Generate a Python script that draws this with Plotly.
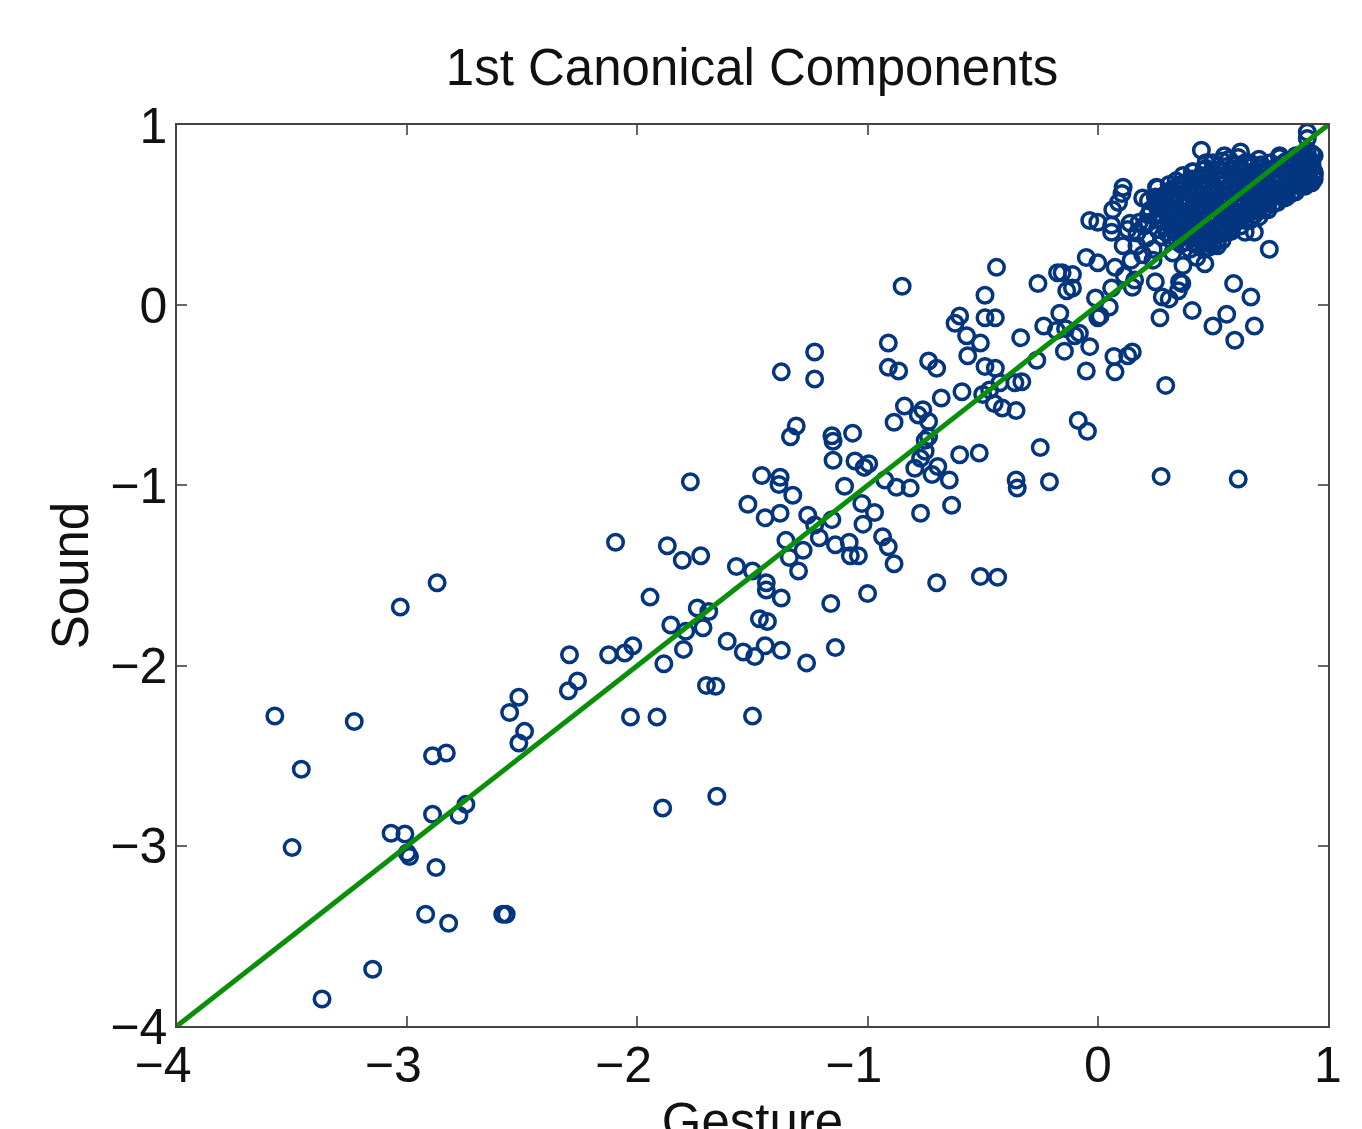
import plotly.graph_objects as go

# Outlying and mid-range points
gesture_sparse = [-3.575,-3.46,-3.23,-3.50,-3.37,-3.15,-2.92,-2.82,-2.875,-3.07,-3.01,-3.0,-2.99,-2.89,-2.775,-2.745,-2.89,-2.83,-3.03,-2.87,
 -2.585,-2.57,-2.555,-2.515,-2.49,-2.515,-2.30,-2.26,-2.295,-2.125,-2.055,-2.02,-2.03,-1.915,-1.89,-1.655,-2.095,-1.945,-1.87,-1.805,
 -1.725,-1.77,-1.855,-1.79,-1.74,-1.69,-1.715,-1.80,-1.885,-1.70,-1.66,-1.61,-1.54,-1.49,-1.50,-1.57,-1.50,-1.44,-1.44,-1.375,
 -1.47,-1.435,-1.445,-1.375,-1.265,-1.14,-1.16,-1.00,-1.52,-1.46,-1.38,-1.385,-1.325,-1.445,-1.38,-1.26,-1.355,-1.34,-1.28,-1.30,
 -1.23,-1.21,-1.155,-1.14,-1.08,-1.075,-1.04,-0.935,-0.91,-0.885,-0.70,-0.51,-0.435,-0.635,-0.77,-0.97,-1.025,-1.02,-1.10,-1.15,
 -1.055,-1.015,-0.995,-1.065,-1.155,-1.15,-1.335,-1.31,-1.375,-1.23,-1.23,-0.925,-0.875,-0.815,-0.795,-0.77,-0.75,-0.75,-0.735,-0.72,
 -0.695,-0.645,-0.60,-0.515,-0.885,-0.84,-0.78,-0.76,-0.735,-0.68,-0.91,-0.91,-0.865,-0.85,-0.735,-0.70,-0.59,-0.62,-0.60,-0.57,
 -0.565,-0.51,-0.49,-0.445,-0.49,-0.445,-0.49,-0.44,-0.50,-0.47,-0.45,-0.415,-0.36,-0.33,-0.355,-0.425,-0.335,-0.265,-0.25,-0.355,
 -0.35,-0.21,-0.26,-0.235,-0.175,-0.155,-0.11,-0.135,-0.11,-0.165,-0.18,-0.14,-0.145,-0.10,-0.08,-0.035,-0.05,-0.085,-0.045,0.0,
 0.01,0.05,-0.01,-0.05,0.0,-0.035,0.0,0.07,0.075,0.13,0.15,0.075,0.06,0.275,0.61,0.295,0.27,0.28,0.31,0.41,
 0.50,0.56,0.595,0.68,0.665,0.59,0.745,0.35,0.365,0.25,0.465,0.45]
sound_sparse = [-2.28,-2.575,-2.31,-3.01,-3.85,-3.685,-3.38,-3.43,-3.12,-2.93,-2.935,-3.04,-3.06,-2.825,-2.83,-2.77,-2.50,-2.485,-1.675,-1.54,
 -3.38,-3.38,-2.26,-2.175,-2.365,-2.43,-2.14,-2.085,-1.94,-1.94,-1.93,-1.89,-2.285,-2.285,-2.79,-2.725,-1.315,-1.62,-1.335,-1.415,
 -1.39,-0.98,-1.775,-1.81,-1.68,-1.70,-1.79,-1.91,-1.99,-2.11,-2.115,-1.865,-1.925,-1.95,-2.28,-1.45,-1.475,-1.54,-1.58,-1.625,
 -1.74,-1.755,-1.89,-1.915,-1.985,-1.90,-1.655,-1.60,-1.105,-0.945,-0.955,-0.995,-1.055,-1.18,-1.155,-1.165,-1.305,-1.40,-1.36,-1.475,
 -1.22,-1.29,-1.19,-1.33,-1.315,-1.39,-1.39,-1.285,-1.34,-1.435,-1.54,-1.505,-1.51,-1.11,-1.155,-1.15,-1.10,-1.215,-1.005,-0.86,
 -0.865,-0.90,-0.88,-0.71,-0.725,-0.755,-0.73,-0.67,-0.37,-0.26,-0.41,-0.97,-1.01,-1.015,-0.905,-0.85,-0.81,-0.75,-0.73,-0.94,
 -0.895,-0.97,-0.83,-0.82,-0.65,-0.56,-0.61,-0.58,-0.645,-0.515,-0.21,-0.345,-0.365,0.105,-0.31,-0.35,-0.48,-0.10,-0.06,-0.17,
 -0.28,-0.21,-0.34,-0.35,-0.07,-0.07,0.055,0.21,-0.495,-0.47,-0.545,-0.57,-0.43,-0.425,-0.585,-0.43,-0.18,-0.305,-0.79,-0.97,
 -1.015,-0.98,0.12,-0.115,0.18,0.18,0.17,0.08,0.095,-0.045,-0.14,-0.13,-0.255,-0.17,-0.155,-0.23,-0.365,-0.64,-0.70,-0.07,
 -0.06,-0.01,0.04,0.265,0.235,0.47,0.46,-0.285,-0.37,-0.28,-0.26,0.21,0.095,-0.95,-0.965,-0.445,-0.07,0.045,0.035,-0.03,
 -0.115,-0.05,-0.195,-0.115,0.045,0.12,0.31,0.08,0.12,0.13,0.23,0.86]

# Edge of the dense cluster in the top right corner
gesture_edge = [0.11,0.105,0.09,0.065,0.06,0.06,0.14,0.11,0.195,0.255,0.34,0.415,0.55,0.62,0.79,0.91,0.91,0.52,0.68,0.64,
 0.565,0.81,0.37,0.145,0.24,0.195,0.15,0.115,0.16,0.355,0.43,0.325,0.20,0.22,0.17,0.18,0.23,0.26,0.27,0.21,0.24,0.13,0.17]
sound_edge = [0.655,0.62,0.57,0.53,0.445,0.405,0.455,0.33,0.595,0.655,0.655,0.74,0.83,0.85,0.83,0.96,0.925,0.33,0.405,0.405,
 0.405,0.595,0.22,0.25,0.25,0.28,0.10,0.165,0.14,0.13,0.265,0.29,0.44,0.50,0.40,0.46,0.53,0.42,0.60,0.37,0.31,0.42,0.33]

# Solid body of the cluster
gesture_body = [0.28,0.29,0.27,0.28,0.29, 0.32,0.33,0.31,0.32,0.33,0.32, 0.36,0.37,0.35,0.36,0.37,0.35,0.36,
 0.40,0.41,0.39,0.40,0.41,0.39,0.40,0.41, 0.44,0.45,0.43,0.44,0.45,0.43,0.44,0.45,
 0.48,0.49,0.47,0.48,0.49,0.47,0.48,0.49,0.47, 0.52,0.53,0.51,0.52,0.53,0.51,0.52,0.53,
 0.56,0.57,0.55,0.56,0.57,0.55,0.56, 0.60,0.61,0.59,0.60,0.61,0.59,0.60, 0.64,0.65,0.63,0.64,0.65,0.63,0.64,
 0.68,0.69,0.67,0.68,0.69,0.67, 0.72,0.73,0.71,0.72,0.73,0.71, 0.76,0.77,0.75,0.76,0.77,
 0.80,0.81,0.79,0.80,0.81, 0.84,0.85,0.83,0.84,0.85, 0.88,0.89,0.87,0.88, 0.92,0.91,0.93,0.92, 0.94,0.94,0.93,0.94,
 0.90,0.86,0.82,0.78,0.74,0.70,0.66,0.62,0.58,0.54,0.50,0.46,0.42,0.38,0.34,0.30,0.93,0.94,0.90]
sound_body = [0.38,0.44,0.50,0.56,0.61, 0.36,0.42,0.47,0.53,0.58,0.64, 0.34,0.40,0.45,0.51,0.56,0.62,0.67,
 0.31,0.37,0.43,0.48,0.54,0.59,0.65,0.70, 0.33,0.39,0.44,0.50,0.56,0.61,0.67,0.72,
 0.32,0.38,0.44,0.49,0.55,0.60,0.66,0.71,0.76, 0.36,0.42,0.47,0.53,0.58,0.64,0.69,0.75,
 0.44,0.50,0.55,0.61,0.66,0.72,0.77, 0.46,0.51,0.57,0.62,0.68,0.73,0.78, 0.47,0.53,0.58,0.64,0.69,0.75,0.79,
 0.50,0.55,0.61,0.66,0.72,0.77, 0.53,0.58,0.64,0.69,0.74,0.78, 0.56,0.61,0.66,0.71,0.76,
 0.60,0.65,0.70,0.75,0.79, 0.62,0.67,0.72,0.77,0.81, 0.66,0.71,0.75,0.80, 0.68,0.72,0.76,0.81, 0.70,0.74,0.78,0.83,
 0.78,0.74,0.68,0.63,0.60,0.56,0.52,0.49,0.41,0.40,0.35,0.35,0.41,0.43,0.49,0.52,0.79,0.72,0.69]

gesture_fill = [0.22,0.23,0.22, 0.26,0.27,0.26,0.25,0.26, 0.30,0.31,0.30,0.29,0.30,0.31, 0.34,0.35,0.34,0.33,0.34,0.35,0.34,
 0.38,0.39,0.38,0.37,0.38,0.39,0.38,0.37, 0.42,0.43,0.42,0.41,0.42,0.43,0.42,0.41,
 0.46,0.47,0.46,0.45,0.46,0.47,0.46,0.45,0.46,0.47, 0.50,0.51,0.50,0.49,0.50,0.51,0.50,0.49,0.50,
 0.54,0.55,0.54,0.53,0.54,0.55,0.54,0.53,0.54, 0.58,0.59,0.58,0.57,0.58,0.59,0.58,0.57,
 0.62,0.63,0.62,0.61,0.62,0.63,0.62,0.61, 0.66,0.67,0.66,0.65,0.66,0.67,0.66,
 0.70,0.71,0.70,0.69,0.70,0.71,0.70, 0.74,0.75,0.74,0.73,0.74,0.75, 0.78,0.79,0.78,0.77,0.78,0.79,
 0.82,0.83,0.82,0.81,0.82, 0.86,0.87,0.86,0.85,0.86, 0.90,0.91,0.90,0.89,0.90,0.91, 0.93,0.94,0.93,0.92,0.93]
sound_fill = [0.46,0.52,0.58, 0.42,0.48,0.54,0.60,0.65, 0.40,0.46,0.51,0.57,0.62,0.67, 0.37,0.43,0.48,0.54,0.60,0.65,0.69,
 0.35,0.40,0.46,0.52,0.57,0.63,0.68,0.72, 0.34,0.40,0.46,0.52,0.57,0.63,0.69,0.74,
 0.31,0.36,0.41,0.47,0.52,0.58,0.64,0.69,0.75,0.79, 0.33,0.39,0.45,0.50,0.56,0.62,0.67,0.73,0.79,
 0.36,0.41,0.47,0.52,0.58,0.64,0.69,0.75,0.80, 0.43,0.48,0.54,0.60,0.65,0.71,0.76,0.81,
 0.44,0.49,0.55,0.60,0.66,0.71,0.76,0.82, 0.47,0.52,0.57,0.63,0.68,0.74,0.79,
 0.49,0.55,0.60,0.66,0.71,0.76,0.81, 0.53,0.59,0.64,0.69,0.74,0.79, 0.57,0.62,0.67,0.72,0.77,0.82,
 0.60,0.65,0.70,0.75,0.80, 0.63,0.68,0.73,0.78,0.83, 0.66,0.70,0.74,0.78,0.83,0.86, 0.68,0.73,0.77,0.80,0.84]

line_x = [-4, 1]
line_y = [-4, 1]
tick_values = [-4, -3, -2, -1, 0, 1]
x_tick_labels = ["\u22124\u00a0\u00a0", "\u22123\u00a0\u00a0", "\u22122\u00a0\u00a0", "\u22121\u00a0\u00a0", "0", "1"]
y_tick_labels = ["\u22124", "\u22123", "\u22122", "\u22121", "0", "1"]

FONT = "Liberation Sans, Arial, sans-serif"
INK = "#111111"
fig = go.Figure()
fig.add_trace(go.Scatter(
    x=gesture_sparse + gesture_edge + gesture_body + gesture_fill,
    y=sound_sparse + sound_edge + sound_body + sound_fill, mode="markers",
    marker=dict(symbol="circle-open", size=15.5, color="#04357f", line=dict(width=3.5, color="#04357f")),
    showlegend=False, cliponaxis=False))
fig.add_trace(go.Scatter(x=line_x, y=line_y, mode="lines",
    line=dict(color="#0a8f0a", width=5), showlegend=False))

axis = dict(range=[-4, 1], tickmode="array", tickvals=tick_values, ticks="inside", ticklen=10,
            tickwidth=1.5, tickcolor="#666666", showline=True, linecolor="#444444", linewidth=1.5,
            mirror="ticks", showgrid=False, zeroline=False, tickfont=dict(family=FONT, size=50, color=INK))
fig.update_xaxes(**axis, ticktext=x_tick_labels, ticklabelstandoff=-6,
                 title=dict(text="Gesture", font=dict(family=FONT, size=51, color=INK), standoff=8))
fig.update_yaxes(**axis, ticktext=y_tick_labels, ticklabelstandoff=-2,
                 title=dict(text="Sound", font=dict(family=FONT, size=51, color=INK), standoff=5))
FIG_HEIGHT = 1150
fig.update_layout(
    width=1354, height=FIG_HEIGHT, autosize=False, plot_bgcolor="white", paper_bgcolor="white",
    margin=dict(l=169, r=34, t=117, b=FIG_HEIGHT - 117 - 901, autoexpand=False),
    title=dict(text="1st Canonical Components", x=744/1354, xanchor="center", y=1-59/FIG_HEIGHT, yanchor="middle",
               font=dict(family=FONT, size=51, color=INK)),
)
fig.write_html("out.html")
